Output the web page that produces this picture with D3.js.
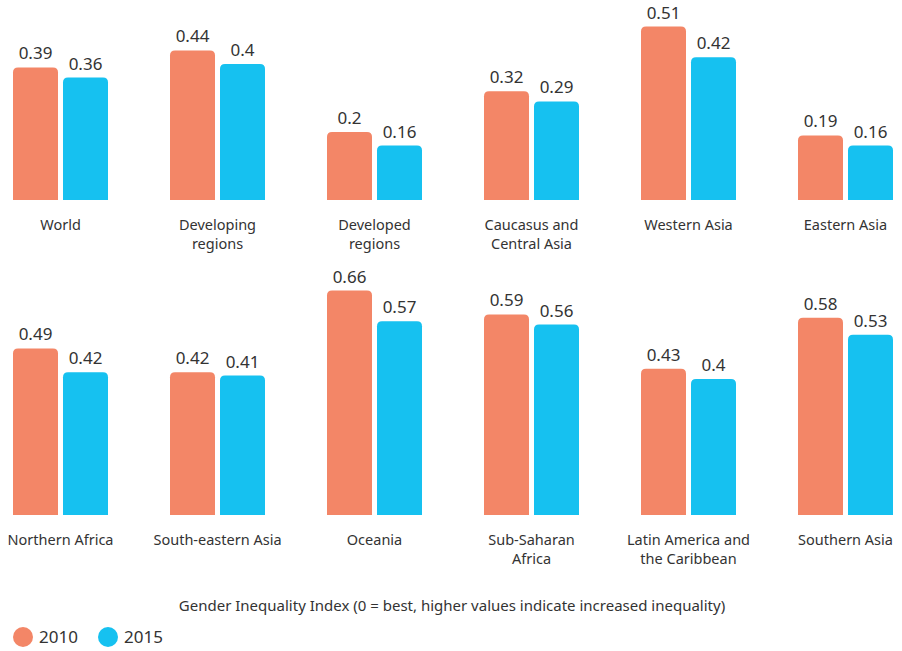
<!DOCTYPE html>
<html>
<head>
<meta charset="utf-8">
<script src="https://cdn.jsdelivr.net/npm/d3@7"></script>
<style>
  body { margin: 0; background: #fff; }
  text { font-family: "Noto Sans", "Lato", sans-serif; fill: #333; }
</style>
</head>
<body>
<svg id="chart"></svg>
<script>
// regions, laid out as two rows of six
const row1 = ["World", "Developing regions", "Developed regions", "Caucasus and Central Asia", "Western Asia", "Eastern Asia"];
const row2 = ["Northern Africa", "South-eastern Asia", "Oceania", "Sub-Saharan Africa", "Latin America and the Caribbean", "Southern Asia"];
const labelLines = {
  "Developing regions": ["Developing", "regions"],
  "Developed regions": ["Developed", "regions"],
  "Caucasus and Central Asia": ["Caucasus and", "Central Asia"],
  "Sub-Saharan Africa": ["Sub-Saharan", "Africa"],
  "Latin America and the Caribbean": ["Latin America and", "the Caribbean"]
};
const years = ["2010", "2015"];
const v2010 = [0.39, 0.44, 0.2, 0.32, 0.51, 0.19, 0.49, 0.42, 0.66, 0.59, 0.43, 0.58];
const v2015 = [0.36, 0.4, 0.16, 0.29, 0.42, 0.16, 0.42, 0.41, 0.57, 0.56, 0.4, 0.53];
const axisTitle = "Gender Inequality Index (0 = best, higher values indicate increased inequality)";

const colors = d3.scaleOrdinal().domain(years).range(["#F38667", "#16C1F0"]);

const W = 902, H = 651;
const svg = d3.select("#chart").attr("width", W).attr("height", H);

const panel = d3.scaleBand().domain(d3.range(6)).range([13, 13 + 157 * 6]);
const inner = d3.scaleBand().domain(years).range([0, 95]).paddingInner(0.1);
const h = d3.scaleLinear().domain([0, 1]).range([0, 340]);
const baselines = [200, 515];

function topRounded(x, y, w, hh, r) {
  r = Math.min(r, hh);
  return `M${x},${y + hh}V${y + r}Q${x},${y} ${x + r},${y}H${x + w - r}Q${x + w},${y} ${x + w},${y + r}V${y + hh}Z`;
}

[row1, row2].forEach((names, ri) => {
  const base = baselines[ri];
  names.forEach((name, ci) => {
    const idx = ri * 6 + ci;
    const g = svg.append("g").attr("transform", `translate(${panel(ci)},0)`);
    const vals = [{ year: "2010", v: v2010[idx] }, { year: "2015", v: v2015[idx] }];
    g.selectAll("path.bar").data(vals).join("path")
      .attr("class", "bar")
      .attr("fill", d => colors(d.year))
      .attr("d", d => topRounded(inner(d.year), base - h(d.v), inner.bandwidth(), h(d.v), 5));
    g.selectAll("text.val").data(vals).join("text")
      .attr("class", "val")
      .attr("x", d => inner(d.year) + inner.bandwidth() / 2)
      .attr("y", d => base - h(d.v) - 8)
      .attr("text-anchor", "middle")
      .attr("font-size", 17)
      .text(d => d.v);
    const lines = labelLines[name] || [name];
    g.append("text")
      .attr("x", 47.5)
      .attr("y", base + 30)
      .attr("text-anchor", "middle")
      .attr("font-size", 14.5)
      .selectAll("tspan").data(lines).join("tspan")
      .attr("x", 47.5)
      .attr("dy", (d, i) => i === 0 ? 0 : 19)
      .text(d => d);
  });
});

svg.append("text")
  .attr("x", 452).attr("y", 611)
  .attr("text-anchor", "middle")
  .attr("font-size", 15)
  .text(axisTitle);

const legend = svg.append("g").attr("transform", "translate(0,637)");
const lx = d3.scalePoint().domain(years).range([23, 108]);
legend.selectAll("circle").data(years).join("circle")
  .attr("cx", d => lx(d)).attr("cy", 0).attr("r", 10)
  .attr("fill", d => colors(d));
legend.selectAll("text").data(years).join("text")
  .attr("x", d => lx(d) + 16).attr("y", 6)
  .attr("font-size", 17)
  .text(d => d);
</script>
</body>
</html>
